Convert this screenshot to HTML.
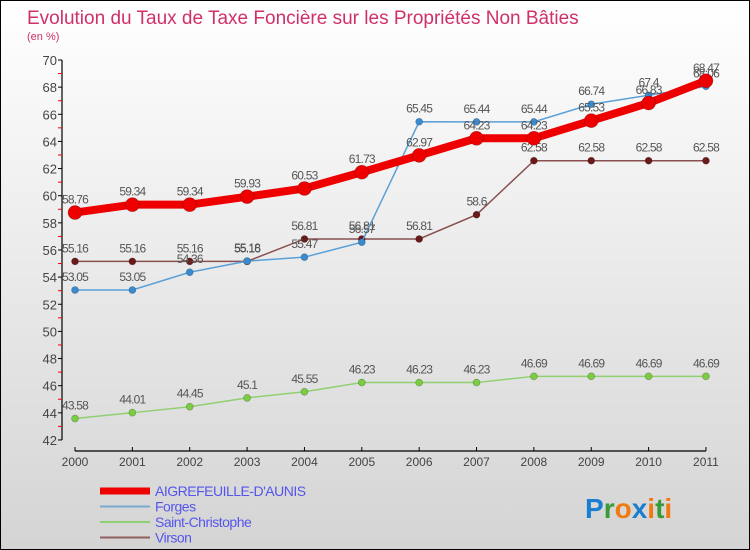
<!DOCTYPE html>
<html><head><meta charset="utf-8"><style>
body{margin:0}
#c{width:750px;height:550px;position:relative;font-family:"Liberation Sans",sans-serif;background:linear-gradient(#fff,#d4d4d4);box-sizing:border-box;border:1px solid #000;overflow:hidden}
svg text{font-family:"Liberation Sans",sans-serif}
</style></head><body>
<div id="c">
<svg id="s" width="750" height="550" style="position:absolute;left:-1px;top:-1px">
<text x="27" y="24" font-size="19" fill="#d0306a">Evolution du Taux de Taxe Foncière sur les Propriétés Non Bâties</text>
<text x="27" y="40" font-size="11" fill="#d0306a">(en %)</text>
<g id="g"></g>
<text x="585" y="518" font-size="28" font-weight="bold"><tspan fill="#1a7fd0">P</tspan><tspan fill="#3a9a3a">r</tspan><tspan fill="#f07a10">o</tspan><tspan fill="#1a7fd0">x</tspan><tspan fill="#f07a10">i</tspan><tspan fill="#3a9a3a">t</tspan><tspan fill="#f07a10">i</tspan></text>
</svg>
</div>
<script>
const years=["2000","2001","2002","2003","2004","2005","2006","2007","2008","2009","2010","2011"];
const aigrefeuille=[58.76,59.34,59.34,59.93,60.53,61.73,62.97,64.23,64.23,65.53,66.83,68.47];
const forges=[53.05,53.05,54.36,55.18,55.47,56.57,65.45,65.44,65.44,66.74,67.4,68.06];
const saintChristophe=[43.58,44.01,44.45,45.1,45.55,46.23,46.23,46.23,46.69,46.69,46.69,46.69];
const virson=[55.16,55.16,55.16,55.16,56.81,56.81,56.81,58.6,62.58,62.58,62.58,62.58];
const yTicks=[42,44,46,48,50,52,54,56,58,60,62,64,66,68,70];
const NS="http://www.w3.org/2000/svg";
const g=document.getElementById('g');
function X(i){return 75+i*57.36}
function Y(v){return 60+(70-v)*13.57}
function el(t,a,p){const e=document.createElementNS(NS,t);for(const k in a)e.setAttribute(k,a[k]);(p||g).appendChild(e);return e}
// y axis
let ax=el('line',{x1:62,y1:60,x2:62,y2:440,stroke:'#000','stroke-width':1.2});

yTicks.forEach(v=>{
  el('line',{x1:58,x2:62,y1:Y(v),y2:Y(v),stroke:'#000'});
  if(v<70)el('line',{x1:58,x2:62,y1:Y(v+1),y2:Y(v+1),stroke:'#e00'});
  const t=el('text',{x:57,y:Y(v)+5,'font-size':13,fill:'#444','text-anchor':'end'});t.textContent=v;
  
});
let xa=el('line',{x1:75,y1:451,x2:X(11),y2:451,stroke:'#000','stroke-width':1.2});

years.forEach((y,i)=>{
  el('line',{x1:X(i),x2:X(i),y1:447,y2:451,stroke:'#000'});
  const t=el('text',{x:X(i),y:466,'font-size':12,fill:'#444','text-anchor':'middle'});t.textContent=y;
  
});
const series=[
 {n:'virson',d:virson,c:'#8a5050',pc:'#6a1a1a',w:1.5,r:3.5},
 {n:'saint-christophe',d:saintChristophe,c:'#90d070',pc:'#7acc40',w:1.5,r:3.5},
 {n:'forges',d:forges,c:'#5aa0d8',pc:'#3a8ad0',w:1.5,r:3.5},
 {n:'aigrefeuille',d:aigrefeuille,c:'#ee0000',pc:'#ee0000',w:8,r:7}
];
series.forEach(s=>{
  const l=el('polyline',{points:s.d.map((v,i)=>X(i)+','+Y(v)).join(' '),fill:'none',stroke:s.c,'stroke-width':s.w});
  
  s.d.forEach((v,i)=>{
    const p=el('circle',{cx:X(i),cy:Y(v),r:s.r,fill:s.pc,stroke:'rgba(0,0,0,0.3)','stroke-width':0.6});
    
    const t=el('text',{x:X(i),y:Y(v)-9,'font-size':12,fill:'#555','text-anchor':'middle','letter-spacing':'-0.8'});t.textContent=v;
    
  });
});
const leg=[['AIGREFEUILLE-D\'AUNIS','#ee0000',7],['Forges','#7aaad0',2],['Saint-Christophe','#90d070',2],['Virson','#906060',2]];
leg.forEach((L,i)=>{
  const y=491+i*15.5;
  const ln=el('line',{x1:100,x2:150,y1:y,y2:y,stroke:L[1],'stroke-width':L[2]});
  
  const t=el('text',{x:155,y:y+5,'font-size':14,fill:'#5555ee','letter-spacing':'-0.5'});t.textContent=L[0];
  
});
</script>
</body></html>
